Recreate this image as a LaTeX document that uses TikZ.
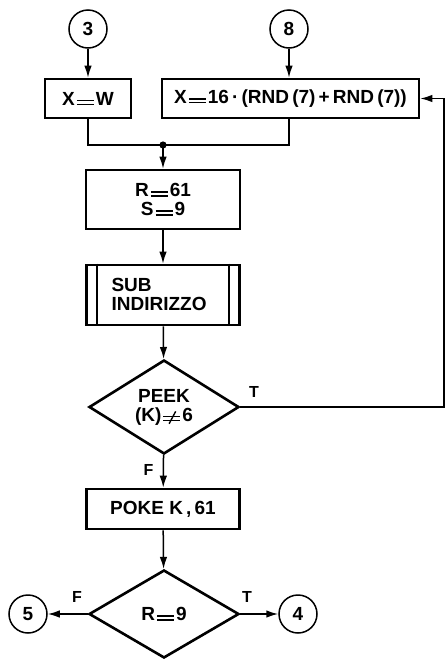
\documentclass[tikz,border=0pt]{standalone}
\usepackage{fontspec}
\setmainfont{Liberation Sans}
\usepackage{graphicx}
\usetikzlibrary{shapes.geometric,arrows.meta}
\newcommand\eqs{\kern2pt\rlap{\rule{17pt}{1.4pt}}\raisebox{3.8pt}{\rule{17pt}{1.4pt}}\kern2pt}
\newcommand\neqs{\ooalign{\eqs\cr\hidewidth\kern1pt\raisebox{-3pt}{\rotatebox{62}{\rule{14pt}{1.4pt}}}\hidewidth\cr}}
\begin{document}
\begin{tikzpicture}[x=1pt,y=-1pt,
  every node/.style={font=\fontsize{19}{19}\selectfont\bfseries},
  proc/.style={draw,line width=2.6pt,rectangle,inner sep=0pt},
  dec/.style={draw,line width=2.6pt,diamond,inner sep=0pt,minimum width=150pt,minimum height=88pt},
  conn/.style={draw,line width=1.5pt,circle,minimum size=38pt,inner sep=0pt},
  flow/.style={line width=1.5pt,-{Latex[length=12pt,width=7.5pt]}},
  lbl/.style={font=\fontsize{16}{18}\selectfont\bfseries}]
\useasboundingbox (0,0) rectangle (445,659);
\node[conn] (c3) at (88,29) {3};
\node[conn] (c8) at (289,29) {8};
\node[proc,minimum width=86pt,minimum height=39pt] (xw) at (88,98.5) {X\eqs W};
\node[proc,minimum width=257pt,minimum height=39pt] (xr) at (290.5,98.5) {X\eqs 16\,·\,(RND\,(7)\,+\,RND\,(7))};
\coordinate (jn) at (163,145);
\node[proc,minimum width=154pt,minimum height=59pt,align=center] (rs) at (163,199.5) {R\eqs 61\\S\eqs 9};
\node[proc,minimum width=153pt,minimum height=60pt] (sub) at (163,295) {};
\draw[line width=1.5pt] ([xshift=12pt]sub.north west) -- ([xshift=12pt]sub.south west);
\draw[line width=1.5pt] ([xshift=-12pt]sub.north east) -- ([xshift=-12pt]sub.south east);
\node[anchor=west,align=left] (subt) at (108,294) {SUB\\INDIRIZZO};
\node[dec,align=center] (peek) at (164,407) {PEEK\\(K)\neqs 6};
\node[proc,minimum width=153pt,minimum height=40pt] (poke) at (163,509) {POKE K\,,\,61};
\node[dec] (r9) at (164,614) {R\eqs 9};
\node[conn] (c5) at (28,614) {5};
\node[conn] (c4) at (298,614) {4};
\coordinate (fb) at (444,407);
% connectors
\draw[flow] (c3) -- (xw);
\draw[flow] (c8.south) -- (c8.south |- xr.north);
\draw[line width=1.5pt] (xw.south) |- (jn);
\draw[line width=1.5pt] (c8.south |- xr.south) |- (jn);
\fill (jn) circle (3.6pt);
\draw[flow] (jn) -- (rs.north);
\draw[flow] (rs) -- (sub);
\draw[flow] (sub) -- (peek);
\draw[flow] (peek.east) -- (fb) |- (xr.east);
\draw[flow] (peek) -- (poke) node[lbl,pos=0.45,left=6pt] {F};
\draw[flow] (poke) -- (r9);
\draw[flow] (r9.west) -- (c5.east);
\draw[flow] (r9.east) -- (c4.west);
\node[lbl] (t1) at (254,392) {T};
\node[lbl] (f2) at (77,597) {F};
\node[lbl] (t2) at (247,597) {T};
\end{tikzpicture}
\end{document}
